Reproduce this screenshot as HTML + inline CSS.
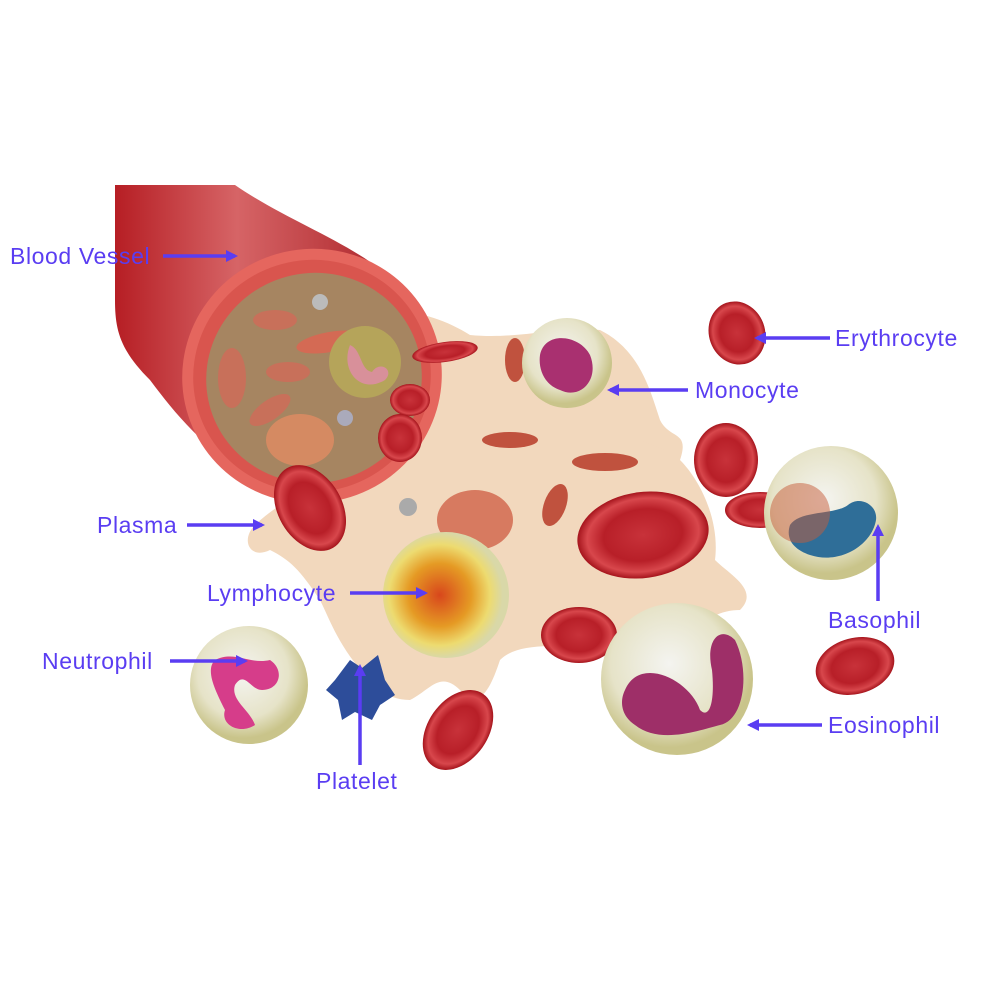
<!DOCTYPE html>
<html><head><meta charset="utf-8"><style>
html,body{margin:0;padding:0;background:#fff;}
svg{display:block}
text{font-family:"Liberation Sans",sans-serif;font-size:23px;fill:#5a3df2;letter-spacing:0.6px;}
</style></head><body>
<svg width="1000" height="1000" viewBox="0 0 1000 1000" xmlns="http://www.w3.org/2000/svg">
<defs>
<radialGradient id="rbc" cx="50%" cy="50%" r="50%"><stop offset="0" stop-color="#c8323a"/><stop offset="0.6" stop-color="#b81f28"/><stop offset="0.85" stop-color="#d8474c"/><stop offset="1" stop-color="#a5141c"/></radialGradient>
<radialGradient id="wbc" cx="45%" cy="40%" r="55%"><stop offset="0" stop-color="#f4f4f0"/><stop offset="0.7" stop-color="#e6e3c8"/><stop offset="1" stop-color="#c9c48a"/></radialGradient>
<linearGradient id="tube" x1="0" y1="0" x2="1" y2="0"><stop offset="0" stop-color="#b61e24"/><stop offset="0.4" stop-color="#d66466"/><stop offset="1" stop-color="#a51a20"/></linearGradient>
<radialGradient id="lym" cx="45%" cy="50%" r="50%"><stop offset="0" stop-color="#d8471c"/><stop offset="0.5" stop-color="#e59a24"/><stop offset="0.8" stop-color="#eddb70"/><stop offset="1" stop-color="#d9d8a8"/></radialGradient>
<marker id="ah" markerWidth="12" markerHeight="12" refX="9" refY="6" orient="auto" markerUnits="userSpaceOnUse"><path d="M0,0 L12,6 L0,12 Z" fill="#5a3df2"/></marker>
</defs>

<!-- plasma -->
<path d="M330,330 C380,300 430,310 470,335 C520,340 560,325 600,330 C640,350 650,390 660,420 C670,440 690,430 680,460 C700,480 720,520 715,560 C730,575 760,590 740,610 C720,610 700,620 690,640 C660,650 630,640 600,640 C560,650 520,640 500,660 C490,690 480,710 460,690 C440,670 430,690 410,700 C390,700 380,690 370,680 C340,650 330,620 320,600 C300,570 290,560 270,550 C250,560 240,540 255,525 C270,510 290,500 300,490 C330,470 360,430 330,330 Z" fill="#f2d8bd"/>
<path d="M640,440 C660,425 680,430 665,450 Z" fill="#f2d8bd"/>

<!-- blood vessel -->
<path d="M115,185 L235,185 C300,230 380,250 420,310 L400,420 L300,500 C220,470 180,420 150,380 C120,350 115,330 115,300 Z" fill="url(#tube)"/>
<ellipse cx="312" cy="376" rx="130" ry="127" transform="rotate(-15 312 376)" fill="#e5665e"/>
<ellipse cx="312" cy="376" rx="119" ry="116" transform="rotate(-15 312 376)" fill="#d9554e"/>
<ellipse cx="314" cy="378" rx="108" ry="105" transform="rotate(-15 314 378)" fill="#a68561"/>

<!-- inner vessel cells -->
<ellipse cx="330" cy="342" rx="34" ry="10" fill="#d46a54" transform="rotate(-10 330 342)"/>
<ellipse cx="275" cy="320" rx="22" ry="10" fill="#c8705a"/>
<ellipse cx="232" cy="378" rx="14" ry="30" fill="#c8705a"/>
<ellipse cx="288" cy="372" rx="22" ry="10" fill="#c8705a"/>
<ellipse cx="270" cy="410" rx="24" ry="10" fill="#c8705a" transform="rotate(-35 270 410)"/>
<ellipse cx="300" cy="440" rx="34" ry="26" fill="#d58a62"/>
<circle cx="365" cy="362" r="36" fill="#b5a45a"/>
<path d="M350,345 C340,370 360,395 385,380 C395,370 380,360 372,372 C360,370 362,350 350,345 Z" fill="#d8909a"/>
<circle cx="320" cy="302" r="8" fill="#bbb"/>
<circle cx="345" cy="418" r="8" fill="#aab"/>

<!-- RBCs -->
<ellipse cx="445" cy="352" rx="33" ry="10" fill="url(#rbc)" transform="rotate(-8 445 352)"/>
<ellipse cx="410" cy="400" rx="20" ry="16" fill="url(#rbc)"/>
<ellipse cx="400" cy="438" rx="22" ry="24" fill="url(#rbc)"/>
<ellipse cx="310" cy="508" rx="32" ry="46" fill="url(#rbc)" transform="rotate(-30 310 508)"/>
<ellipse cx="510" cy="440" rx="28" ry="8" fill="#c0523e"/>
<ellipse cx="605" cy="462" rx="33" ry="9" fill="#c0523e"/>
<ellipse cx="515" cy="360" rx="10" ry="22" fill="#c0523e"/>
<ellipse cx="555" cy="505" rx="11" ry="22" fill="#c0523e" transform="rotate(20 555 505)"/>
<ellipse cx="475" cy="520" rx="38" ry="30" fill="#d77a60"/>
<ellipse cx="643" cy="535" rx="66" ry="43" fill="url(#rbc)" transform="rotate(-8 643 535)"/>
<ellipse cx="726" cy="460" rx="32" ry="37" fill="url(#rbc)"/>
<ellipse cx="737" cy="333" rx="28" ry="32" fill="url(#rbc)" transform="rotate(-20 737 333)"/>
<ellipse cx="760" cy="510" rx="35" ry="18" fill="url(#rbc)"/>
<ellipse cx="579" cy="635" rx="38" ry="28" fill="url(#rbc)"/>
<ellipse cx="855" cy="666" rx="40" ry="28" fill="url(#rbc)" transform="rotate(-15 855 666)"/>
<ellipse cx="458" cy="730" rx="30" ry="44" fill="url(#rbc)" transform="rotate(35 458 730)"/>
<circle cx="408" cy="507" r="9" fill="#aaa"/>

<!-- Monocyte -->
<circle cx="567" cy="363" r="45" fill="url(#wbc)"/>
<path d="M540,355 C545,330 580,335 590,355 C600,380 580,400 560,390 C545,385 538,370 540,355 Z" fill="#a93070"/>

<!-- Basophil -->
<circle cx="831" cy="513" r="67" fill="url(#wbc)"/>
<path d="M790,525 C800,510 835,515 848,505 C860,495 878,505 876,520 C872,545 840,565 810,555 C795,550 785,540 790,525 Z" fill="#2f6e98"/>
<circle cx="800" cy="513" r="30" fill="#c65b3a" opacity="0.5"/>

<!-- Lymphocyte -->
<circle cx="446" cy="595" r="63" fill="url(#lym)"/>

<!-- Eosinophil -->
<circle cx="677" cy="679" r="76" fill="url(#wbc)"/>
<path d="M625,690 C640,655 690,680 700,710 C710,720 715,700 712,670 C705,640 720,625 735,640 C750,670 745,720 720,725 C700,730 660,745 635,725 C620,715 620,700 625,690 Z" fill="#9e2f68"/>

<!-- Neutrophil -->
<circle cx="249" cy="685" r="59" fill="url(#wbc)"/>
<path d="M215,660 C235,650 250,665 270,660 C285,670 280,690 262,690 C250,690 245,670 235,685 C230,700 250,710 255,725 C240,735 220,725 225,710 C215,690 205,670 215,660 Z" fill="#d63d8a"/>

<!-- Platelet -->
<path d="M335,680 L350,660 L362,668 L378,655 L385,680 L395,695 L380,705 L372,720 L355,712 L342,720 L338,700 L326,690 Z" fill="#2d4d9a"/>

<!-- labels -->
<g stroke="#5a3df2" stroke-width="3.5">
<line x1="163" y1="256" x2="235" y2="256" marker-end="url(#ah)"/>
<line x1="830" y1="338" x2="757" y2="338" marker-end="url(#ah)"/>
<line x1="688" y1="390" x2="610" y2="390" marker-end="url(#ah)"/>
<line x1="187" y1="525" x2="262" y2="525" marker-end="url(#ah)"/>
<line x1="350" y1="593" x2="425" y2="593" marker-end="url(#ah)"/>
<line x1="170" y1="661" x2="245" y2="661" marker-end="url(#ah)"/>
<line x1="360" y1="765" x2="360" y2="667" marker-end="url(#ah)"/>
<line x1="878" y1="601" x2="878" y2="527" marker-end="url(#ah)"/>
<line x1="822" y1="725" x2="750" y2="725" marker-end="url(#ah)"/>
</g>
<text x="10" y="264">Blood Vessel</text>
<text x="835" y="346">Erythrocyte</text>
<text x="695" y="398">Monocyte</text>
<text x="97" y="533">Plasma</text>
<text x="207" y="601">Lymphocyte</text>
<text x="42" y="669">Neutrophil</text>
<text x="316" y="789">Platelet</text>
<text x="828" y="628">Basophil</text>
<text x="828" y="733">Eosinophil</text>
</svg>
</body></html>
